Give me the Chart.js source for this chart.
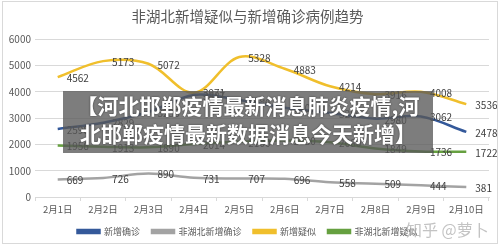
<!DOCTYPE html>
<html>
<head>
<meta charset="utf-8">
<script src="https://cdn.jsdelivr.net/npm/chart.js@4"></script>
<style>
  html, body { margin: 0; padding: 0; background: #fff; }
  #wrap { position: relative; width: 500px; height: 246px; overflow: hidden; }
  #frame { position: absolute; left: 2px; top: 1px; width: 494px; height: 241px; border: 1px solid #d9d9d9; pointer-events: none; }
  #banner {
    position: absolute; left: 63px; top: 91px; width: 370px; height: 62px;
    background: rgba(88,88,88,0.78); color: #fff;
    font: bold 21px "Noto Sans CJK SC", sans-serif; line-height: 28px;
    text-align: center; text-shadow: 0 0 2px #333;
  }
  #mark { position: absolute; left: 406px; top: 217px; font: 16px "Noto Sans CJK SC", sans-serif; color: rgba(175,175,175,0.75); }
</style>
</head>
<body>
<div id="wrap">
  <canvas id="c" width="500" height="246"></canvas>
  <div id="frame"></div>
  <div id="banner">【河北邯郸疫情最新消息肺炎疫情,河<br>北邯郸疫情最新数据消息今天新增】</div>
  <div id="mark">知乎 @萝卜</div>
</div>
<script>
/* ── Data ───────────────────────────────────────────── */
const days = ['2月1日','2月2日','2月3日','2月4日','2月5日','2月6日','2月7日','2月8日','2月9日','2月10日'];
const newConfirmed      = [2590, 2829, 3235, 3887, 3694, 3400, 3200, 2980, 3062, 2478];
const nonHubeiConfirmed = [669, 726, 890, 731, 707, 696, 558, 509, 444, 381];
const newSuspected      = [4562, 5173, 5072, 3971, 5328, 4883, 4214, 3916, 4008, 3536];
const nonHubeiSuspected = [1956, 1913, 1890, 2014, 2100, 2150, 2080, 1849, 1736, 1722];
const yTicks = [0, 1000, 2000, 3000, 4000, 5000, 6000];

const FONT = '"Noto Sans CJK SC", sans-serif';
const TXT = '#595959';

/* ── Value labels next to each point ────────────────── */
const pointLabels = {
  id: 'pointLabels',
  afterDatasetsDraw(chart) {
    const ctx = chart.ctx;
    ctx.save();
    ctx.font = '10px ' + FONT;
    ctx.fillStyle = '#404040';
    ctx.textBaseline = 'middle';
    ctx.textAlign = 'left';
    chart.data.datasets.forEach((ds, i) => {
      chart.getDatasetMeta(i).data.forEach((pt, j) => {
        ctx.fillText(String(ds.data[j]), pt.x + 9, pt.y + 1);
      });
    });
    ctx.restore();
  }
};

function line(label, data, color) {
  return {
    label, data,
    borderColor: color, backgroundColor: color,
    borderWidth: 2.5, pointRadius: 0, tension: 0.35, fill: false
  };
}

new Chart(document.getElementById('c'), {
  type: 'line',
  data: {
    labels: days,
    datasets: [
      line('新增确诊', newConfirmed, '#34599a'),
      line('非湖北新增确诊', nonHubeiConfirmed, '#a3a3a3'),
      line('新增疑似', newSuspected, '#f0bf2c'),
      line('非湖北新增疑似', nonHubeiSuspected, '#66a040')
    ]
  },
  options: {
    responsive: false, animation: false,
    layout: { padding: { left: 6, right: 11, top: 0, bottom: 0 } },
    plugins: {
      title: {
        display: true, text: '非湖北新增疑似与新增确诊病例趋势',
        color: TXT, font: { family: FONT, size: 14.5, weight: 'normal' },
        padding: { top: 8, bottom: 14 }
      },
      legend: {
        position: 'bottom',
        labels: { color: TXT, font: { family: FONT, size: 9 }, boxWidth: 22, boxHeight: 3, padding: 12 }
      },
      tooltip: { enabled: false }
    },
    scales: {
      x: {
        offset: true,
        afterFit(s) { s.height = 18; },
        grid: { offset: true, drawOnChartArea: false, tickLength: 4, color: '#d9d9d9' },
        border: { color: '#d9d9d9' },
        ticks: { color: TXT, font: { family: FONT, size: 9.5 }, padding: 3, maxRotation: 0 }
      },
      y: {
        min: 0, max: 6000,
        afterFit(s) { s.width = 29; },
        afterBuildTicks(s) { s.ticks = yTicks.map(v => ({ value: v })); },
        grid: { color: '#d9d9d9', drawTicks: false },
        border: { display: false },
        ticks: { color: TXT, font: { family: FONT, size: 10 }, padding: 4, callback: v => String(v) }
      }
    }
  },
  plugins: [pointLabels]
});
</script>
</body>
</html>
